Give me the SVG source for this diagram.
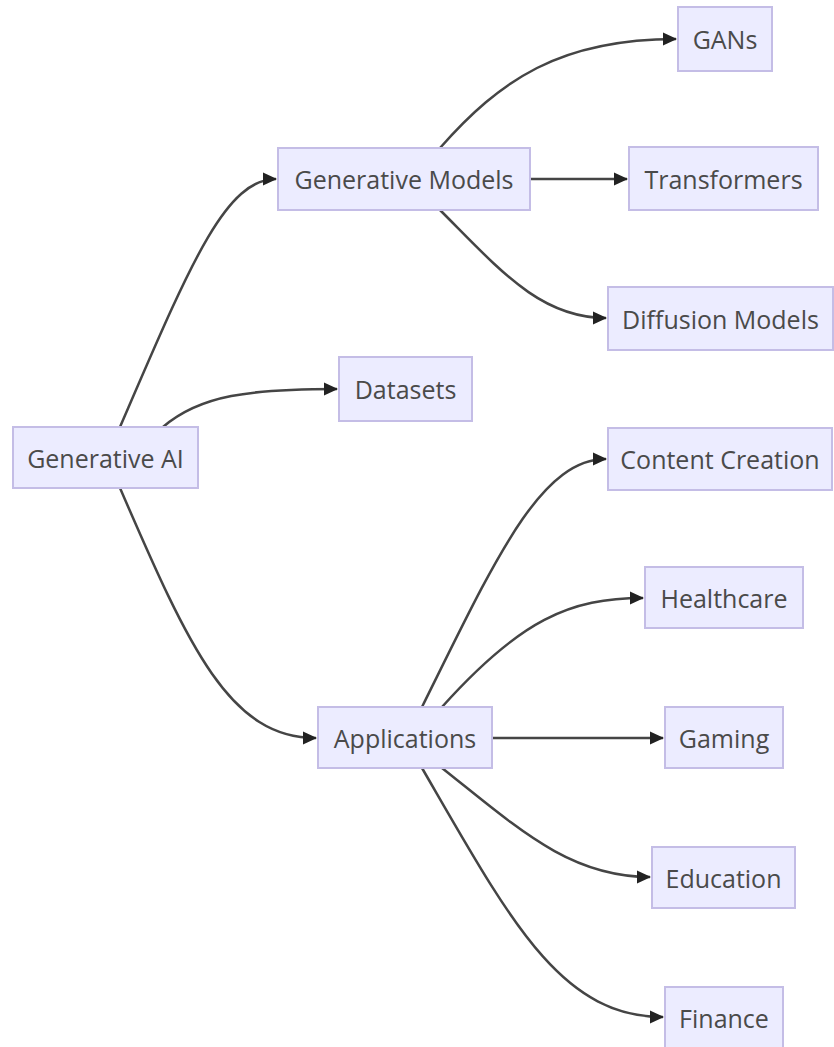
<svg xmlns="http://www.w3.org/2000/svg" width="834" height="1047" viewBox="0 0 834 1047">
<style>
.node rect{fill:#ECECFF;stroke:#c4bde6;stroke-width:2}
.node text{font-family:"Open Sans","Liberation Sans",sans-serif;font-size:25px;fill:#4a4a4a;text-anchor:middle;dominant-baseline:central}
.edges path{fill:none;stroke:#454545;stroke-width:2.5}
</style>
<defs>
<marker id="arr" markerUnits="userSpaceOnUse" markerWidth="15" markerHeight="15" refX="13" refY="7.5" orient="auto">
<path d="M0,1 L14,7.5 L0,14 Z" fill="#222"/>
</marker>
</defs>
<rect width="834" height="1047" fill="#fff"/>
<g class="edges">
<path d="M120,427 C190,265 225,179 276,179" marker-end="url(#arr)"/>
<path d="M163,427 C200,395 250,389 337,389" marker-end="url(#arr)"/>
<path d="M120,488 C190,650 230,738 316,738" marker-end="url(#arr)"/>
<path d="M440,148 C500,80 560,39 676,39" marker-end="url(#arr)"/>
<path d="M530,179 L627,179" marker-end="url(#arr)"/>
<path d="M440,210 C500,270 540,318 606,318" marker-end="url(#arr)"/>
<path d="M422,707 C495,560 540,459 606,459" marker-end="url(#arr)"/>
<path d="M442,707 C520,620 570,598 643,598" marker-end="url(#arr)"/>
<path d="M492,738 L663,738" marker-end="url(#arr)"/>
<path d="M442,768 C520,830 570,877 650,877" marker-end="url(#arr)"/>
<path d="M422,768 C510,920 560,1017 663,1017" marker-end="url(#arr)"/>
</g>
<g id="genai" class="node"><rect x="13" y="427" width="185" height="61"/><text x="105.5" y="458">Generative AI</text></g>
<g id="genmodels" class="node"><rect x="278" y="148" width="252" height="62"/><text x="404" y="179">Generative Models</text></g>
<g id="gans" class="node"><rect x="678" y="7" width="94" height="64"/><text x="725" y="39">GANs</text></g>
<g id="transformers" class="node"><rect x="629" y="147" width="189" height="63"/><text x="723.5" y="178.5">Transformers</text></g>
<g id="diffusion" class="node"><rect x="608" y="287" width="225" height="63"/><text x="720.5" y="318.5">Diffusion Models</text></g>
<g id="datasets" class="node"><rect x="339" y="357" width="133" height="64"/><text x="405.5" y="389">Datasets</text></g>
<g id="applications" class="node"><rect x="318" y="707" width="174" height="61"/><text x="405" y="737.5">Applications</text></g>
<g id="content" class="node"><rect x="608" y="428" width="224" height="62"/><text x="720" y="459">Content Creation</text></g>
<g id="healthcare" class="node"><rect x="645" y="567" width="158" height="61"/><text x="724" y="597.5">Healthcare</text></g>
<g id="gaming" class="node"><rect x="665" y="707" width="118" height="61"/><text x="724" y="737.5">Gaming</text></g>
<g id="education" class="node"><rect x="652" y="847" width="143" height="61"/><text x="723.5" y="877.5">Education</text></g>
<g id="finance" class="node"><rect x="665" y="987" width="118" height="61"/><text x="724" y="1017.5">Finance</text></g>
</svg>
